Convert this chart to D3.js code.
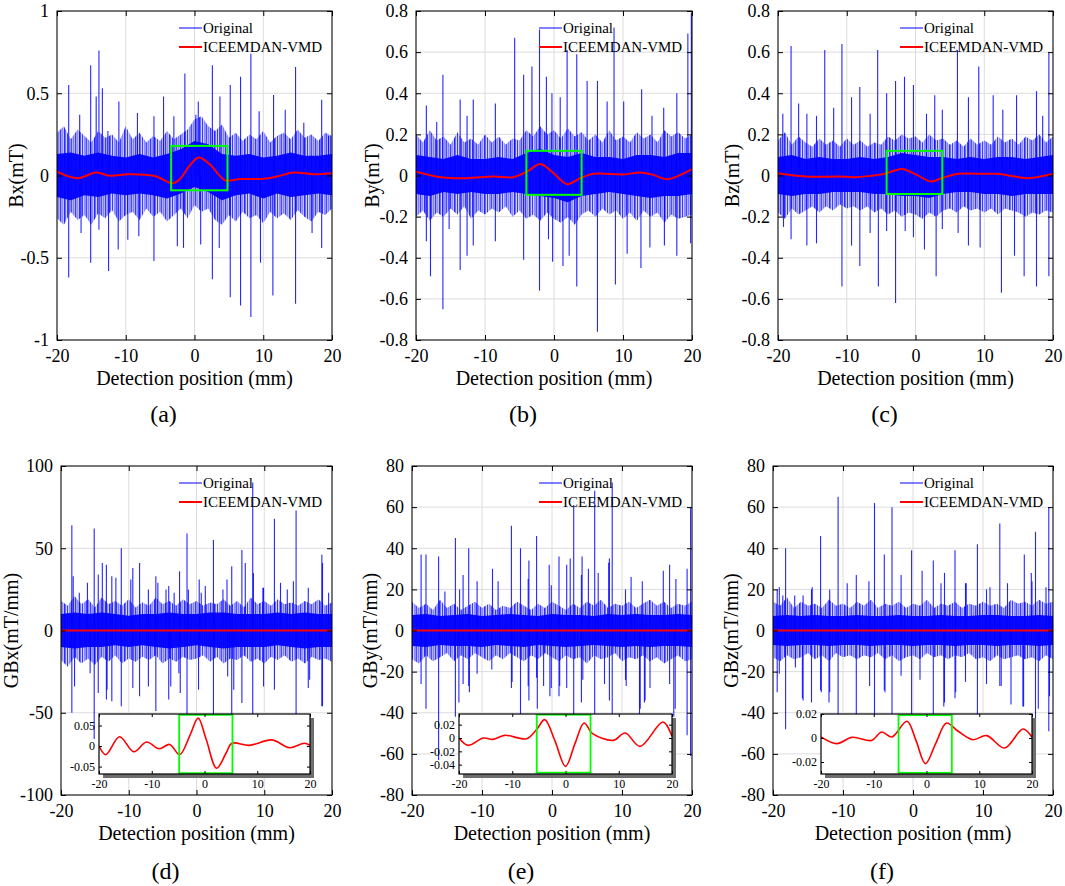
<!DOCTYPE html>
<html>
<head>
<meta charset="utf-8">
<script src="https://cdn.jsdelivr.net/npm/d3@7"></script>
<style>
  body { margin: 0; background: #fff; }
  svg text { font-family: "Liberation Serif", "Times New Roman", serif; fill: #000; }
</style>
</head>
<body>
<svg id="chart_svg"></svg>
<script>
// ---- data ----
const xTicks = [-20, -10, 0, 10, 20];
const coreX = [-20, -18, -16, -14, -12, -10, -8, -6, -4, -2, 0, 2, 4, 6, 8, 10, 12, 14, 16, 18, 20];
const hairX = [-20,-19,-18,-17,-16,-15,-14,-13,-12,-11,-10,-9,-8,-7,-6,-5,-4,-3,-2,-1,0,1,2,3,4,5,6,7,8,9,10,11,12,13,14,15,16,17,18,19,20];

const bxTicks = [-1, -0.5, 0, 0.5, 1];
const byTicks = [-0.8, -0.6, -0.4, -0.2, 0, 0.2, 0.4, 0.6, 0.8];
const gbxTicks = [-100, -50, 0, 50, 100];
const gbyTicks = [-80, -60, -40, -20, 0, 20, 40, 60, 80];

// envelope of the thin noise strokes (every 1 mm) and of the dense core (every 2 mm)
const bxHairHi = [0.26,0.3,0.22,0.28,0.24,0.2,0.27,0.23,0.25,0.2,0.3,0.22,0.26,0.2,0.24,0.21,0.27,0.22,0.25,0.28,0.34,0.36,0.3,0.27,0.31,0.23,0.26,0.21,0.25,0.22,0.27,0.2,0.24,0.26,0.22,0.28,0.23,0.25,0.21,0.26,0.24];
const bxHairLo = [-0.26,-0.3,-0.22,-0.27,-0.24,-0.3,-0.23,-0.26,-0.21,-0.28,-0.24,-0.22,-0.27,-0.2,-0.25,-0.22,-0.28,-0.24,-0.2,-0.26,-0.18,-0.22,-0.2,-0.27,-0.3,-0.24,-0.28,-0.22,-0.26,-0.24,-0.29,-0.22,-0.26,-0.23,-0.27,-0.21,-0.25,-0.28,-0.22,-0.24,-0.2];
const bxCoreHi = [0.13,0.14,0.12,0.14,0.12,0.11,0.13,0.11,0.13,0.16,0.21,0.19,0.13,0.12,0.13,0.11,0.12,0.14,0.12,0.12,0.13];
const bxCoreLo = [-0.13,-0.15,-0.12,-0.13,-0.11,-0.12,-0.11,-0.12,-0.14,-0.11,-0.07,-0.1,-0.15,-0.12,-0.11,-0.14,-0.11,-0.13,-0.12,-0.11,-0.12];

const byHairHi = [0.2,0.16,0.22,0.17,0.19,0.15,0.21,0.16,0.18,0.15,0.2,0.16,0.19,0.15,0.18,0.17,0.22,0.19,0.24,0.2,0.22,0.18,0.23,0.19,0.21,0.17,0.2,0.16,0.22,0.17,0.19,0.16,0.21,0.18,0.2,0.16,0.22,0.19,0.21,0.18,0.2];
const byHairLo = [-0.2,-0.17,-0.22,-0.18,-0.2,-0.16,-0.19,-0.15,-0.21,-0.17,-0.19,-0.16,-0.18,-0.15,-0.2,-0.17,-0.21,-0.19,-0.22,-0.18,-0.21,-0.23,-0.2,-0.24,-0.19,-0.17,-0.2,-0.16,-0.19,-0.17,-0.21,-0.18,-0.22,-0.17,-0.2,-0.18,-0.23,-0.19,-0.21,-0.2,-0.19];
const byCoreHi = [0.1,0.09,0.08,0.1,0.08,0.08,0.09,0.08,0.11,0.13,0.1,0.09,0.11,0.09,0.09,0.08,0.1,0.1,0.09,0.11,0.11];
const byCoreLo = [-0.09,-0.1,-0.08,-0.09,-0.08,-0.09,-0.09,-0.08,-0.09,-0.1,-0.11,-0.13,-0.1,-0.09,-0.08,-0.09,-0.1,-0.11,-0.1,-0.1,-0.09];

const bzHairHi = [0.17,0.21,0.15,0.19,0.16,0.14,0.18,0.15,0.17,0.14,0.18,0.15,0.17,0.14,0.16,0.15,0.19,0.17,0.2,0.18,0.19,0.16,0.2,0.17,0.18,0.15,0.17,0.14,0.18,0.15,0.17,0.15,0.19,0.16,0.18,0.15,0.19,0.17,0.2,0.16,0.19];
const bzHairLo = [-0.18,-0.21,-0.16,-0.19,-0.17,-0.15,-0.18,-0.15,-0.17,-0.14,-0.16,-0.15,-0.17,-0.15,-0.18,-0.16,-0.19,-0.17,-0.2,-0.18,-0.19,-0.21,-0.18,-0.2,-0.17,-0.16,-0.18,-0.15,-0.17,-0.16,-0.18,-0.16,-0.19,-0.16,-0.17,-0.18,-0.2,-0.18,-0.19,-0.17,-0.18];
const bzCoreHi = [0.09,0.1,0.08,0.09,0.08,0.08,0.09,0.08,0.09,0.11,0.1,0.09,0.09,0.08,0.09,0.08,0.09,0.09,0.08,0.09,0.1];
const bzCoreLo = [-0.09,-0.1,-0.09,-0.09,-0.08,-0.08,-0.08,-0.09,-0.09,-0.1,-0.1,-0.11,-0.09,-0.08,-0.08,-0.09,-0.09,-0.1,-0.09,-0.09,-0.09];

const gbxHairHi = [18,15,21,16,19,14,20,16,18,15,19,14,17,15,20,16,18,15,19,16,18,15,17,16,19,15,18,14,20,16,18,15,19,16,17,15,18,16,19,15,17];
const gbxHairLo = [-18,-22,-16,-20,-17,-21,-16,-19,-15,-20,-17,-19,-16,-18,-15,-20,-17,-19,-16,-18,-17,-15,-19,-16,-20,-17,-18,-15,-19,-17,-20,-16,-18,-15,-19,-17,-20,-16,-18,-17,-19];
const gbxCoreHi = [10,11,10,11,10,9,10,10,11,10,10,11,11,10,10,10,11,10,11,10,10];
const gbxCoreLo = [-10,-11,-10,-10,-9,-10,-9,-10,-11,-10,-9,-10,-11,-10,-10,-10,-9,-10,-11,-10,-10];

const gbyHairHi = [14,11,13,10,15,11,13,10,12,14,11,13,10,12,11,14,12,10,13,11,14,12,10,13,11,14,12,15,11,13,12,14,11,13,15,12,14,11,13,12,14];
const gbyHairLo = [-14,-16,-12,-15,-13,-11,-15,-12,-14,-11,-13,-15,-12,-14,-11,-13,-15,-12,-14,-11,-13,-15,-12,-14,-13,-16,-12,-14,-13,-11,-15,-13,-14,-12,-15,-13,-16,-14,-12,-15,-14];
const gbyCoreHi = [7.5,8,7,7.5,8,7,7.5,8,7.5,7,8,7.5,7.5,7,8,7.5,8,7.5,7.5,8,7.5];
const gbyCoreLo = [-7.5,-8,-7,-7.5,-7.5,-8,-7,-7.5,-8,-7,-7.5,-8,-7.5,-7,-7.5,-8,-7.5,-8,-7.5,-7.5,-8];

const gbzHairHi = [14,12,16,11,14,12,13,11,15,12,13,11,14,12,15,11,13,12,14,11,13,12,15,11,13,12,14,11,13,12,14,12,13,11,15,13,14,12,15,13,14];
const gbzHairLo = [-13,-15,-12,-14,-13,-11,-14,-12,-15,-11,-13,-12,-14,-12,-13,-11,-14,-12,-15,-13,-12,-14,-11,-13,-12,-14,-12,-13,-11,-14,-13,-15,-12,-14,-13,-12,-14,-13,-15,-12,-14];
const gbzCoreHi = [7,7.5,7,7.5,7,7,7.5,7,7,7.5,7,7,7.5,7,7,7.5,7.5,7,7,7.5,7];
const gbzCoreLo = [-7,-7.5,-7,-7,-7.5,-7,-7,-7.5,-7,-7,-7.5,-7,-7,-7.5,-7,-7,-7.5,-7,-7,-7.5,-7];

// visible spikes of the original signal [position, peak]
const bxSpikes = [[-18.3,0.55],[-15.1,0.67],[-13.9,0.76],[-14.3,0.48],[-13.4,0.53],[-11,0.45],[-8.3,0.38],[-5.9,0.36],[-4.5,0.48],[-1.4,0.62],[0.2,0.37],[0.55,0.45],[2.6,0.67],[3.7,0.48],[5.2,0.55],[6.7,0.6],[8.2,0.74],[9.4,0.39],[11.5,0.49],[14.7,0.66],[18.5,0.46],[-16.7,0.37],[-12.6,0.27],[-3,0.36],[13.2,0.4],[15.9,0.32],[19.5,0.24],
  [-18.3,-0.62],[-15.1,-0.53],[-12.5,-0.58],[-11.1,-0.45],[-13.9,-0.33],[-8.1,-0.37],[-5.9,-0.52],[-2.5,-0.43],[-1.6,-0.44],[0.9,-0.42],[2.6,-0.63],[5.2,-0.74],[6.7,-0.79],[8.2,-0.86],[11.4,-0.73],[14.7,-0.78],[18.5,-0.44],[-16.5,-0.35],[-9.7,-0.39],[3.6,-0.44],[9.6,-0.53],[17.1,-0.35]];
const bySpikes = [[-18.5,0.34],[-16.1,0.49],[-13.6,0.37],[-12.6,0.29],[-11.7,0.37],[-8.5,0.35],[-5.7,0.67],[-4.4,0.49],[-3.2,0.53],[-2.1,0.71],[-1.1,0.48],[-0.3,0.4],[0.9,0.38],[1.9,0.61],[3.3,0.59],[4.8,0.46],[6.3,0.46],[7.7,0.36],[8.7,0.72],[10.1,0.36],[12.7,0.42],[14.2,0.29],[15.9,0.33],[17.8,0.4],[19.4,0.69],[19.9,0.79],[-17,0.26],
  [-17.9,-0.49],[-16.1,-0.65],[-13.6,-0.46],[-12.6,-0.39],[-18.5,-0.32],[-15.2,-0.26],[-11.7,-0.34],[-8.5,-0.32],[-4.4,-0.41],[-2.1,-0.56],[-0.8,-0.31],[-0.2,-0.42],[1.3,-0.44],[2.2,-0.39],[3.3,-0.54],[6.3,-0.76],[8.9,-0.53],[10.6,-0.38],[12.6,-0.45],[13.9,-0.35],[16,-0.34],[17.8,-0.39],[19.8,-0.33]];
const bzSpikes = [[-18.1,0.63],[-19.3,0.3],[-17,0.35],[-15.8,0.3],[-14.4,0.29],[-13.2,0.61],[-11.9,0.33],[-10.7,0.64],[-9.3,0.38],[-8.1,0.43],[-6.6,0.3],[-5.5,0.61],[-4.2,0.4],[-2.9,0.46],[-1.6,0.48],[-0.3,0.44],[1.6,0.3],[2.8,0.39],[3.9,0.32],[6.1,0.61],[7.7,0.38],[9.2,0.53],[11.3,0.39],[12.7,0.32],[14.7,0.39],[17.6,0.41],[19.4,0.6],[18.5,0.29],
  [-19.2,-0.25],[-18.1,-0.31],[-15.8,-0.34],[-14.4,-0.33],[-10.7,-0.54],[-9.3,-0.34],[-8.1,-0.44],[-6.6,-0.28],[-5.4,-0.54],[-4.2,-0.27],[-2.9,-0.62],[-1.5,-0.27],[-0.3,-0.3],[1.3,-0.36],[3,-0.49],[3.9,-0.26],[6.2,-0.28],[7.7,-0.34],[9.4,-0.35],[12.5,-0.57],[14.4,-0.39],[15.8,-0.49],[17.6,-0.54],[19.4,-0.49]];
const gbxSpikes = [[-18.4,64],[-18.2,33],[-16.1,29],[-15.1,62],[-14.5,34],[-13.9,41],[-13.3,40],[-11.9,32],[-11.1,50],[-9.4,38],[-8.4,41],[-6,33],[-4.1,27],[-2.5,36],[-1.4,59],[0.4,31],[2.5,55],[4.5,31],[6.7,49],[7.2,41],[8.3,90],[9.9,26],[11.5,68],[12.4,29],[14.3,30],[14.7,73],[18.5,46],[19.5,23],[-17.3,23],
  [-12.5,33],[-9.7,31],[-7.1,25],[-5.7,29],[-4.5,25],[-3.3,23],[-1.2,25],[0.7,23],[1.3,27],[3.9,25],[5.2,39],[8.4,35],[9.8,26],[13.4,25],[16.5,26],[18.6,41],
  [-18.4,-50],[-15.1,-66],[-14.5,-38],[-13.3,-42],[-12.5,-43],[-11.1,-46],[-9.4,-35],[-8.4,-40],[-6,-49],[-4.1,-42],[-2.4,-38],[-1.4,-55],[0.3,-36],[2.5,-55],[5.2,-55],[6.7,-44],[8.3,-55],[9.9,-34],[11.5,-36],[14.7,-55],[16.5,-35],[18.5,-46],
  [-18,-34],[-15.7,-26],[-13.2,-36],[-7.1,-34],[-3.8,-34],[-2.6,-26],[4.6,-28],[5.5,-36],[16.7,-30],[18.6,-46]];
const gbySpikes = [[-18.7,37],[-18,37],[-16.2,36],[-15.3,19],[-13.8,45],[-13.2,20],[-11.9,40],[-10.7,24],[-8.5,30],[-7.7,24],[-5.8,51],[-4.5,40],[-3.4,25],[-2.2,46],[-0.1,22],[1,36],[2.1,32],[2.6,35],[3.1,61],[4.2,27],[6.1,68],[6.6,28],[8.2,35],[8.6,72],[11.3,26],[12.9,24],[15.9,29],[16.8,32],[17.7,25],[19.3,30],[19.8,60],
  [-12.7,27],[-3.3,34],[-0.4,32],[4.3,36],[5.2,30],[8.1,33],[10.5,20],
  [-18.7,-26],[-18,-38],[-16.2,-63],[-13.8,-42],[-13.3,-35],[-11.9,-27],[-10.7,-21],[-5.8,-28],[-4.5,-45],[-3.4,-27],[-2.2,-23],[-0.3,-32],[1.1,-27],[3.1,-45],[4.2,-35],[6.1,-45],[8.2,-34],[8.6,-45],[10.6,-27],[12.5,-45],[13.2,-35],[17.4,-42],[19.3,-51],[19.8,-61],
  [-12.7,-26],[-11.8,-30],[-8.6,-19],[-5.7,-25],[-3.3,-34],[-2.1,-38],[-1.2,-27],[-0.1,-28],[1,-32],[2.1,-28],[4.4,-24],[7.5,-26],[10.5,-24],[12.6,-38],[13.3,-34],[14,-28],[16.8,-26],[17.6,-38]];
const gbzSpikes = [[-19.4,20],[-18.6,17],[-18.2,40],[-16.9,17],[-15.7,17],[-14.5,20],[-13.2,46],[-12,15],[-10.7,65],[-9.4,23],[-8.1,27],[-6.3,24],[-5.5,62],[-4.1,37],[-3,60],[-1.7,27],[-0.2,39],[1.3,29],[2.9,34],[4,23],[6,39],[7.5,23],[9.2,42],[11,21],[12.4,52],[13.5,23],[15.9,37],[17,24],[17.5,48],[19.4,60],[19,21],
  [-19.1,21],[-14.4,21],[-11.9,20],[4.5,28],[7.6,23],[10.5,20],[16.9,28],
  [-19.4,-30],[-18.2,-48],[-15.8,-33],[-14.5,-35],[-13.2,-29],[-12,-35],[-10.7,-45],[-8.1,-45],[-5.5,-45],[-4.1,-29],[-3,-45],[-0.2,-45],[2.9,-45],[4.4,-37],[6,-33],[7.5,-25],[9.2,-45],[12.4,-27],[14,-36],[15.7,-37],[17.5,-50],[19.4,-49],
  [-19.1,-21],[-16.8,-18],[-15.7,-34],[-13.1,-30],[-11.9,-30],[-6.2,-27],[-4,-30],[-1.7,-22],[1,-24],[4.5,-35],[6.1,-30],[10.5,-26],[12.6,-27],[15.8,-37],[17.9,-38],[19.5,-32]];

// ICEEMDAN-VMD result [position, value]
const bxFilt = [[-20,0.024],[-17,-0.016],[-14.3,0.018],[-12.2,-0.002],[-9.7,0.008],[-5.9,-0.002],[-3.1,-0.047],[-2,-0.016],[-0.8,0.055],[0.6,0.11],[2.3,0.065],[3.55,0.004],[4.5,-0.03],[6.7,-0.022],[10.1,-0.02],[12,-0.006],[14.4,0.018],[17.3,0.008],[20,0.014]];
const byFilt = [[-20,0.019],[-16,-0.01],[-12.6,-0.013],[-8.8,-0.005],[-5.9,-0.008],[-3.9,0.019],[-2,0.056],[-0.05,0.011],[1.9,-0.042],[3.8,-0.013],[5.7,0.008],[10.1,0.005],[12.5,0.015],[14.4,0.003],[16.4,-0.018],[20,0.031]];
const bzFilt = [[-20,0.011],[-16,-0.005],[-11.2,-0.005],[-8.8,-0.008],[-5.4,0.003],[-4.2,0.011],[-2,0.032],[0.2,0.003],[2.2,-0.029],[3.8,-0.013],[6.2,0.008],[10.1,0.008],[12,0.008],[14,-0.002],[16.1,-0.013],[20,0.008]];
const gbxFilt = [[-20,0],[-18.7,-0.021],[-16.1,0.0225],[-13.4,-0.014],[-11,0.01],[-8.6,-0.0067],[-6.6,0.004],[-4.7,-0.021],[-2.8,0.025],[-1.2,0.068],[0.3,0.017],[2.3,-0.054],[4.1,-0.017],[5.2,0.0067],[8.5,0.0017],[12.8,0.015],[16.1,-0.004],[18.9,0.0067],[20,0.002]];
const gbyFilt = [[-20,0],[-18.3,-0.011],[-15.4,0],[-13.6,-0.002],[-11.4,0.004],[-7.3,-0.001],[-5.4,0.013],[-3.9,0.0275],[-2,-0.004],[0,-0.0425],[1.8,-0.008],[3.5,0.0225],[5.1,0.0065],[9,-0.0035],[11.2,0.0075],[14,-0.0125],[18.3,0.024],[20,0.0025]];
const gbzFilt = [[-20,0.001],[-17,-0.0047],[-14.1,0.0006],[-10.4,-0.002],[-8.5,0.005],[-6.6,0.0008],[-3.7,0.014],[-2,-0.002],[-0.2,-0.0214],[1.8,-0.004],[3.8,0.0125],[6,0.0056],[8.8,-0.0014],[11.4,0.002],[14.8,-0.0083],[18.3,0.0075],[20,0.0006]];

// green zoom boxes [x0, x1, y0, y1]
const bxBox = [-3.4, 4.8, -0.09, 0.18];
const byBox = [-4.0, 4.0, -0.094, 0.12];
const bzBox = [-4.2, 3.9, -0.09, 0.12];
const gbxBox = [-4.8, 5.3, -0.066, 0.076];
const gbyBox = [-5.4, 4.7, -0.052, 0.035];
const gbzBox = [-5.3, 4.8, -0.029, 0.019];

const gbxInsetTicks = [-0.05, 0, 0.05];
const gbyInsetTicks = [-0.04, -0.02, 0, 0.02];
const gbzInsetTicks = [-0.02, 0, 0.02];

const legendLabels = ["Original", "ICEEMDAN-VMD"];

// ---- layout ----
const width = 1065, height = 886;
const panels = [
  { id: "a", tag: "(a)", yLabel: "Bx(mT)", l: 57, t: 11, r: 332, b: 340, yDomain: [-1, 1], yTicks: bxTicks,
    hairHi: bxHairHi, hairLo: bxHairLo, coreHi: bxCoreHi, coreLo: bxCoreLo, spikes: bxSpikes, filt: bxFilt, box: bxBox, yOff: 41 },
  { id: "b", tag: "(b)", yLabel: "By(mT)", l: 416, t: 11, r: 692, b: 340, yDomain: [-0.8, 0.8], yTicks: byTicks,
    hairHi: byHairHi, hairLo: byHairLo, coreHi: byCoreHi, coreLo: byCoreLo, spikes: bySpikes, filt: byFilt, box: byBox, yOff: 44 },
  { id: "c", tag: "(c)", yLabel: "Bz(mT)", l: 778, t: 11, r: 1053, b: 340, yDomain: [-0.8, 0.8], yTicks: byTicks,
    hairHi: bzHairHi, hairLo: bzHairLo, coreHi: bzCoreHi, coreLo: bzCoreLo, spikes: bzSpikes, filt: bzFilt, box: bzBox, yOff: 46 },
  { id: "d", tag: "(d)", yLabel: "GBx(mT/mm)", l: 61, t: 466, r: 332, b: 795, yDomain: [-100, 100], yTicks: gbxTicks,
    hairHi: gbxHairHi, hairLo: gbxHairLo, coreHi: gbxCoreHi, coreLo: gbxCoreLo, spikes: gbxSpikes, filt: gbxFilt, yOff: 50,
    inset: { l: 99, t: 714, r: 310, b: 774, yDomain: [-0.068, 0.078], yTicks: gbxInsetTicks, box: gbxBox } },
  { id: "e", tag: "(e)", yLabel: "GBy(mT/mm)", l: 412, t: 466, r: 692, b: 795, yDomain: [-80, 80], yTicks: gbyTicks,
    hairHi: gbyHairHi, hairLo: gbyHairLo, coreHi: gbyCoreHi, coreLo: gbyCoreLo, spikes: gbySpikes, filt: gbyFilt, yOff: 42,
    inset: { l: 459, t: 714, r: 672, b: 774, yDomain: [-0.054, 0.036], yTicks: gbyInsetTicks, box: gbyBox } },
  { id: "f", tag: "(f)", yLabel: "GBz(mT/mm)", l: 773, t: 466, r: 1053, b: 795, yDomain: [-80, 80], yTicks: gbyTicks,
    hairHi: gbzHairHi, hairLo: gbzHairLo, coreHi: gbzCoreHi, coreLo: gbzCoreLo, spikes: gbzSpikes, filt: gbzFilt, yOff: 42,
    inset: { l: 821, t: 714, r: 1032, b: 774, yDomain: [-0.03, 0.02], yTicks: gbzInsetTicks, box: gbzBox } }
];

const BLUE = "#0000ff", RED = "#ff0000", GREEN = "#00ff00", GRID = "#dcdcdc";
const FONT = "'Liberation Serif', 'Times New Roman', serif";
const fmt = d => String(d);

const svg = d3.select("#chart_svg").attr("width", width).attr("height", height);
const defs = svg.append("defs");

// texture of thin, unevenly spaced vertical strokes for the noisy part of the trace
const strokeTexture = [[0, 0.9], [1.7, 0.7], [3.9, 1.1], [5.3, 0.6], [7.1, 0.9], [9.6, 0.8], [11.2, 1.0], [13.5, 0.7]];
defs.append("pattern")
  .attr("id", "hair")
  .attr("patternUnits", "userSpaceOnUse")
  .attr("width", 15).attr("height", 10)
  .selectAll("rect").data(strokeTexture).join("rect")
  .attr("x", d => d[0]).attr("width", d => d[1]).attr("height", 10)
  .attr("fill", BLUE);

function styleAxis(g, size) {
  g.select(".domain").remove();
  g.selectAll(".tick line").attr("stroke", "#000");
  g.attr("font-family", FONT).attr("font-size", size);
  g.selectAll("text").attr("font-family", FONT).attr("font-size", size);
}

function addText(g, size) {
  return g.append("text").attr("font-family", FONT).attr("font-size", size);
}

function drawPanel(p) {
  const x = d3.scaleLinear().domain([-20, 20]).range([p.l, p.r]);
  const y = d3.scaleLinear().domain(p.yDomain).range([p.b, p.t]);
  const g = svg.append("g").attr("class", "panel-" + p.id);

  const clipId = "clip-" + p.id;
  defs.append("clipPath").attr("id", clipId).append("rect")
    .attr("x", p.l).attr("y", p.t).attr("width", p.r - p.l).attr("height", p.b - p.t);

  // grid
  g.append("g").selectAll("line").data(xTicks).join("line")
    .attr("x1", d => x(d)).attr("x2", d => x(d))
    .attr("y1", p.t).attr("y2", p.b)
    .attr("stroke", GRID).attr("stroke-width", 1);
  g.append("g").selectAll("line").data(p.yTicks).join("line")
    .attr("y1", d => y(d)).attr("y2", d => y(d))
    .attr("x1", p.l).attr("x2", p.r)
    .attr("stroke", GRID).attr("stroke-width", 1);

  const plot = g.append("g").attr("clip-path", `url(#${clipId})`);

  // original signal: thin strokes envelope, dense core, spikes
  const area = d3.area().x(d => x(d[0])).y0(d => y(d[1])).y1(d => y(d[2]));
  const hair = hairX.map((v, i) => [v, p.hairLo[i], p.hairHi[i]]);
  const core = coreX.map((v, i) => [v, p.coreLo[i], p.coreHi[i]]);

  plot.append("path").datum(hair).attr("d", area)
    .attr("fill", "#7a7aff").attr("opacity", 0.35);
  plot.append("path").datum(hair).attr("d", area)
    .attr("fill", "url(#hair)").attr("opacity", 0.8);
  plot.append("path").datum(core).attr("d", area)
    .attr("fill", BLUE).attr("opacity", 0.95);

  plot.append("g").selectAll("line").data(p.spikes).join("line")
    .attr("x1", d => x(d[0])).attr("x2", d => x(d[0]))
    .attr("y1", y(0)).attr("y2", d => y(d[1]))
    .attr("stroke", BLUE).attr("stroke-width", 1.1).attr("opacity", 0.85);

  // ICEEMDAN-VMD
  const line = d3.line().x(d => x(d[0])).y(d => y(d[1])).curve(d3.curveCatmullRom.alpha(0.5));
  plot.append("path").datum(p.filt).attr("d", line)
    .attr("fill", "none").attr("stroke", RED).attr("stroke-width", 2);

  if (p.box) {
    plot.append("rect")
      .attr("x", x(p.box[0])).attr("y", y(p.box[3]))
      .attr("width", x(p.box[1]) - x(p.box[0])).attr("height", y(p.box[2]) - y(p.box[3]))
      .attr("fill", "none").attr("stroke", GREEN).attr("stroke-width", 2);
  }

  // axes, ticks inward on all four sides
  styleAxis(g.append("g").attr("transform", `translate(0,${p.b})`)
    .call(d3.axisBottom(x).tickValues(xTicks).tickSize(-5).tickPadding(9).tickFormat(fmt)), 18);
  styleAxis(g.append("g").attr("transform", `translate(0,${p.t})`)
    .call(d3.axisTop(x).tickValues(xTicks).tickSize(-5).tickFormat("")), 18);
  styleAxis(g.append("g").attr("transform", `translate(${p.l},0)`)
    .call(d3.axisLeft(y).tickValues(p.yTicks).tickSize(-5).tickPadding(8).tickFormat(fmt)), 18);
  styleAxis(g.append("g").attr("transform", `translate(${p.r},0)`)
    .call(d3.axisRight(y).tickValues(p.yTicks).tickSize(-5).tickFormat("")), 18);

  g.append("rect")
    .attr("x", p.l).attr("y", p.t).attr("width", p.r - p.l).attr("height", p.b - p.t)
    .attr("fill", "none").attr("stroke", "#000").attr("stroke-width", 1);

  // labels
  addText(g, 20)
    .attr("x", (p.l + p.r) / 2).attr("y", p.b + 38)
    .attr("text-anchor", "middle").attr("dominant-baseline", "central")
    .text("Detection position (mm)");
  addText(g, 20)
    .attr("transform", `translate(${p.l - p.yOff},${(p.t + p.b) / 2}) rotate(-90)`)
    .attr("text-anchor", "middle").attr("dominant-baseline", "central")
    .text(p.yLabel);
  addText(g, 24)
    .attr("x", (p.l + p.r) / 2 - 31).attr("y", p.b + (p.inset ? 76 : 74))
    .attr("text-anchor", "middle").attr("dominant-baseline", "central")
    .text(p.tag);

  // legend (no frame)
  const lg = g.append("g").attr("transform", `translate(${p.r - 153},${p.t + 17})`);
  lg.selectAll("line").data(legendLabels).join("line")
    .attr("x1", 0).attr("x2", 23)
    .attr("y1", (d, i) => i * 19).attr("y2", (d, i) => i * 19)
    .attr("stroke", (d, i) => i === 0 ? BLUE : RED)
    .attr("stroke-width", (d, i) => i === 0 ? 1 : 2);
  lg.selectAll("text").data(legendLabels).join("text")
    .attr("font-family", FONT).attr("font-size", 15)
    .attr("x", 24).attr("y", (d, i) => i * 19)
    .attr("dominant-baseline", "central")
    .text(d => d);

  if (p.inset) drawInset(p);
}

function drawInset(p) {
  const q = p.inset;
  const x = d3.scaleLinear().domain([-20, 20]).range([q.l, q.r]);
  const y = d3.scaleLinear().domain(q.yDomain).range([q.b, q.t]);
  const g = svg.append("g").attr("class", "inset-" + p.id);

  // drop shadow + white background
  g.append("rect")
    .attr("x", q.l + 4).attr("y", q.t + 4).attr("width", q.r - q.l).attr("height", q.b - q.t)
    .attr("fill", "#6e6e6e");
  g.append("rect")
    .attr("x", q.l).attr("y", q.t).attr("width", q.r - q.l).attr("height", q.b - q.t)
    .attr("fill", "#fff");

  const clipId = "clip-inset-" + p.id;
  defs.append("clipPath").attr("id", clipId).append("rect")
    .attr("x", q.l).attr("y", q.t).attr("width", q.r - q.l).attr("height", q.b - q.t);
  const plot = g.append("g").attr("clip-path", `url(#${clipId})`);

  const line = d3.line().x(d => x(d[0])).y(d => y(d[1])).curve(d3.curveCatmullRom.alpha(0.5));
  plot.append("path").datum(p.filt).attr("d", line)
    .attr("fill", "none").attr("stroke", RED).attr("stroke-width", 1.6);

  plot.append("rect")
    .attr("x", x(q.box[0])).attr("y", y(q.box[3]))
    .attr("width", x(q.box[1]) - x(q.box[0])).attr("height", y(q.box[2]) - y(q.box[3]))
    .attr("fill", "none").attr("stroke", GREEN).attr("stroke-width", 1.8);

  styleAxis(g.append("g").attr("transform", `translate(0,${q.b})`)
    .call(d3.axisBottom(x).tickValues(xTicks).tickSize(-3).tickPadding(5).tickFormat(fmt)), 12);
  styleAxis(g.append("g").attr("transform", `translate(0,${q.t})`)
    .call(d3.axisTop(x).tickValues(xTicks).tickSize(-3).tickFormat("")), 12);
  styleAxis(g.append("g").attr("transform", `translate(${q.l},0)`)
    .call(d3.axisLeft(y).tickValues(q.yTicks).tickSize(-3).tickPadding(4).tickFormat(fmt)), 12);
  styleAxis(g.append("g").attr("transform", `translate(${q.r},0)`)
    .call(d3.axisRight(y).tickValues(q.yTicks).tickSize(-3).tickFormat("")), 12);

  g.append("rect")
    .attr("x", q.l).attr("y", q.t).attr("width", q.r - q.l).attr("height", q.b - q.t)
    .attr("fill", "none").attr("stroke", "#000").attr("stroke-width", 1.2);
}

panels.forEach(drawPanel);
</script>
</body>
</html>
